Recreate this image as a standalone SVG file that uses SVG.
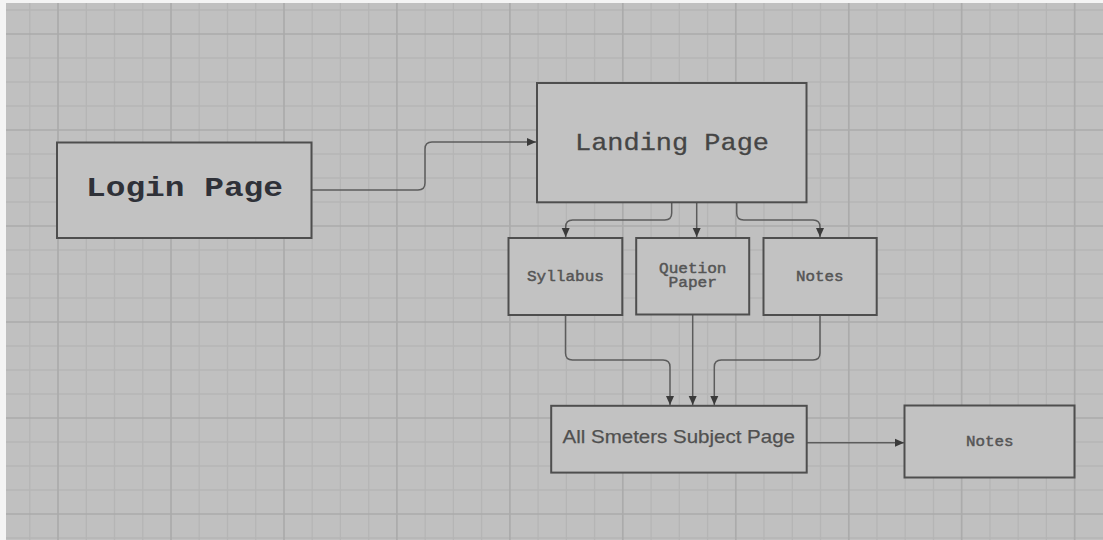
<svg xmlns="http://www.w3.org/2000/svg" width="1103" height="540" viewBox="0 0 1103 540">
<defs>
<style>
.box{fill:#c2c2c2;stroke:#4e4e4e;stroke-width:2}
.mono{font-family:"Liberation Mono","DejaVu Sans Mono",monospace}
.sans{font-family:"Liberation Sans",Arial,sans-serif}
.small{font-size:14.5px;fill:#555;stroke:#555;stroke-width:0.45}
.conn{fill:none;stroke:#5c5c5c;stroke-width:1.5}
.gl{fill:none;stroke:#b5b5b5;stroke-width:1.3}
.gd{fill:none;stroke:#ababab;stroke-width:1.7}
</style>
<marker id="ah" markerUnits="userSpaceOnUse" markerWidth="10" markerHeight="10" refX="9" refY="5" orient="auto">
<path d="M0,1 L9,5 L0,9 z" fill="#3a3a3a"/>
</marker>
</defs>
<rect x="0" y="0" width="1103" height="540" fill="#f4f4f4"/>
<rect x="6" y="3" width="1097" height="537" fill="#c0c0c0"/>
<g id="grid">
<path class="gl" d="M29.8,3V540M86.3,3V540M114.5,3V540M142.8,3V540M199.2,3V540M227.5,3V540M255.7,3V540M312.2,3V540M340.4,3V540M368.7,3V540M425.2,3V540M453.4,3V540M481.6,3V540M538.1,3V540M566.4,3V540M594.6,3V540M651.1,3V540M679.3,3V540M707.6,3V540M764,3V540M792.3,3V540M820.5,3V540M877,3V540M905.2,3V540M933.5,3V540M990,3V540M1018.2,3V540M1046.4,3V540
M6,10H1103M6,58H1103M6,82H1103M6,106H1103M6,154H1103M6,178H1103M6,202H1103M6,250H1103M6,274H1103M6,298H1103M6,346H1103M6,370H1103M6,394H1103M6,442H1103M6,466H1103M6,490H1103M6,538H1103"/>
<path class="gd" d="M58,3V540M171,3V540M284,3V540M396.9,3V540M509.9,3V540M622.8,3V540M735.8,3V540M848.8,3V540M961.7,3V540M1074.7,3V540
M6,34H1103M6,130H1103M6,226H1103M6,322H1103M6,418H1103M6,514H1103"/>
</g>
<g id="connectors">
<path class="conn" marker-end="url(#ah)" d="M311,190 H418 Q425,190 425,183 V149 Q425,142 432,142 H536"/>
<path class="conn" marker-end="url(#ah)" d="M671.7,202 V213 Q671.7,220 664.7,220 H572.7 Q565.7,220 565.7,227 V237"/>
<path class="conn" marker-end="url(#ah)" d="M696.7,202 V237"/>
<path class="conn" marker-end="url(#ah)" d="M736.7,202 V213 Q736.7,220 743.7,220 H813 Q820,220 820,227 V237"/>
<path class="conn" marker-end="url(#ah)" d="M565.5,315 V353 Q565.5,360 572.5,360 H663 Q670,360 670,367 V405"/>
<path class="conn" marker-end="url(#ah)" d="M692.7,315 V405"/>
<path class="conn" marker-end="url(#ah)" d="M820,315 V353 Q820,360 813,360 H721.3 Q714.3,360 714.3,367 V405"/>
<path class="conn" marker-end="url(#ah)" d="M807,442.7 H904"/>
</g>
<g id="login">
<rect class="box" x="57" y="142.5" width="254.5" height="95.5"/>
<text class="mono" x="86" y="196" font-size="28" font-weight="bold" fill="#2f3138" textLength="197" lengthAdjust="spacingAndGlyphs">Login Page</text>
</g>
<g id="landing">
<rect class="box" x="537" y="83" width="269.5" height="119.3"/>
<text class="mono" x="575" y="150" font-size="24" fill="#454545" stroke="#454545" stroke-width="0.3" textLength="194" lengthAdjust="spacingAndGlyphs">Landing Page</text>
</g>
<g id="syllabus">
<rect class="box" x="508.5" y="238" width="113.8" height="77"/>
<text class="mono small" x="527" y="281" textLength="77" lengthAdjust="spacingAndGlyphs">Syllabus</text>
</g>
<g id="question">
<rect class="box" x="636.2" y="238" width="113" height="76.5"/>
<text class="mono small" x="659" y="273.3" textLength="67.5" lengthAdjust="spacingAndGlyphs">Quetion</text>
<text class="mono small" x="668.5" y="287.3" textLength="48.5" lengthAdjust="spacingAndGlyphs">Paper</text>
</g>
<g id="notes1">
<rect class="box" x="763.5" y="238" width="113.2" height="77"/>
<text class="mono small" x="796" y="281" textLength="47.5" lengthAdjust="spacingAndGlyphs">Notes</text>
</g>
<g id="subjects">
<rect class="box" x="551.2" y="405.8" width="255.5" height="66.8"/>
<text class="sans" x="562.5" y="442.7" font-size="19" fill="#505050" stroke="#505050" stroke-width="0.25" textLength="232.5" lengthAdjust="spacingAndGlyphs">All Smeters Subject Page</text>
</g>
<g id="notes2">
<rect class="box" x="904.5" y="405.5" width="170" height="72"/>
<text class="mono small" x="966" y="445.7" textLength="47.5" lengthAdjust="spacingAndGlyphs">Notes</text>
</g>
</svg>
